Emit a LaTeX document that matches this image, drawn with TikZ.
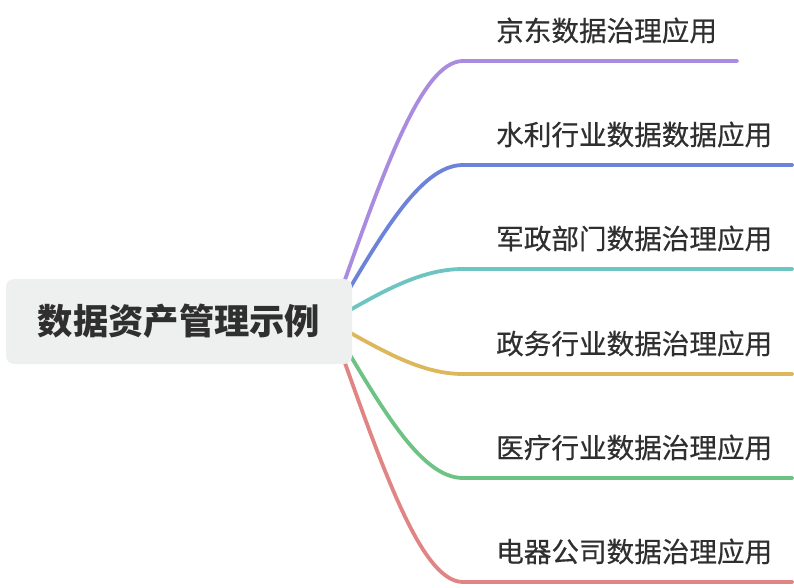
\documentclass[tikz,border=0pt]{standalone}
\usepackage{fontspec}
\newfontfamily\cjk{Noto Sans CJK SC}
\newfontfamily\cjkmed[FakeBold=0.45]{Noto Sans CJK SC}
\usepackage{xcolor}
\usepackage{tikz}
\usetikzlibrary{backgrounds}

\definecolor{txtgray}{HTML}{2F2F2F}
\definecolor{rootfill}{HTML}{EEF0EF}
\definecolor{cpurple}{HTML}{A98BDF}
\definecolor{cblue}{HTML}{6C83D9}
\definecolor{cteal}{HTML}{6CC5C1}
\definecolor{cyellow}{HTML}{DDB75B}
\definecolor{cgreen}{HTML}{6DC383}
\definecolor{cred}{HTML}{E18484}

\begin{document}
\begin{tikzpicture}[x=1pt, y=-1pt,
    root/.style={fill=rootfill, rounded corners=8pt, minimum width=346pt,
      minimum height=85pt, inner sep=0pt, text=txtgray,
      font=\cjk\fontsize{35.3}{40}\selectfont\bfseries},
    leaf/.style={anchor=base west, inner sep=0pt, text=txtgray,
      font=\cjkmed\fontsize{27.6}{30}\selectfont},
    branch/.style={line width=3.8pt, line cap=round}]
  \useasboundingbox (0,0) rectangle (794,588);
  % Central topic
  \node[root] (root) at (179,321.5) {数据资产管理示例};
  \coordinate (hub) at ([xshift=-22pt]root.east);
  % Subtopics
  \node[leaf] (l1) at (496,41)  {京东数据治理应用};
  \node[leaf] (l2) at (496,145) {水利行业数据数据应用};
  \node[leaf] (l3) at (496,249) {军政部门数据治理应用};
  \node[leaf] (l4) at (496,354) {政务行业数据治理应用};
  \node[leaf] (l5) at (496,458) {医疗行业数据治理应用};
  \node[leaf] (l6) at (496,562) {电器公司数据治理应用};
  % Branch ends below the labels
  \foreach \i in {1,...,6}
    \coordinate (e\i) at ([shift={(-33,20)}]l\i.base west);
  % Branches
  \begin{scope}[on background layer]
    \draw[branch, cpurple] (hub) .. controls +(50,-141) and +(-43,0) .. (e1)
          -- ([xshift=20pt]e1 -| l1.base east);
    \draw[branch, cblue] (hub) .. controls +(50,-85) and +(-43,0) .. (e2)
          -- ([xshift=20pt]e2 -| l2.base east);
    \draw[branch, cteal] (hub) .. controls +(50,-29) and +(-43,0) .. (e3)
          -- ([xshift=20pt]e3 -| l3.base east);
    \draw[branch, cyellow] (hub) .. controls +(50,28) and +(-43,0) .. (e4)
          -- ([xshift=20pt]e4 -| l4.base east);
    \draw[branch, cgreen] (hub) .. controls +(50,84) and +(-43,0) .. (e5)
          -- ([xshift=20pt]e5 -| l5.base east);
    \draw[branch, cred] (hub) .. controls +(50,140) and +(-43,0) .. (e6)
          -- ([xshift=20pt]e6 -| l6.base east);
  \end{scope}
\end{tikzpicture}
\end{document}
